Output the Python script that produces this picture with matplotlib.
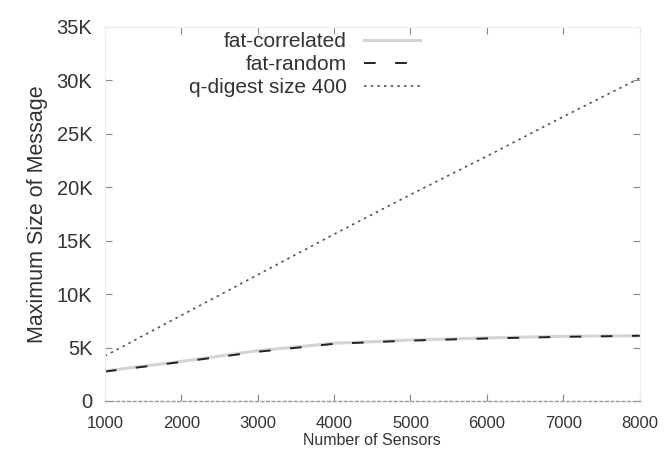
import matplotlib
matplotlib.use("Agg")
import matplotlib.pyplot as plt
from matplotlib.ticker import FuncFormatter

plt.rcParams['font.family'] = ['Liberation Sans', 'DejaVu Sans']

sensors = [1000, 2000, 3000, 4000, 5000, 6000, 7000, 8000]
fat_correlated = [2800, 3700, 4700, 5400, 5700, 5900, 6050, 6100]
fat_random = [2750, 3650, 4600, 5350, 5650, 5850, 6000, 6100]
qdigest_400 = [4200, 8000, 11800, 15600, 19300, 22900, 26600, 30200]

xticks = [1000, 2000, 3000, 4000, 5000, 6000, 7000, 8000]
yticks = [0, 5000, 10000, 15000, 20000, 25000, 30000, 35000]

fig = plt.figure(figsize=(6.72, 4.63), dpi=100)
ax = fig.add_axes([0.156, 0.134, 0.796, 0.808])

ax.plot(sensors, fat_correlated, color='#d4d4d4', lw=2.2, label='fat-correlated')
ax.plot(sensors, fat_random, color='#222222', lw=1.4, ls=(0, (6, 10)), label='fat-random')
ax.plot(sensors, qdigest_400, color='#555555', lw=1.2, ls=(0, (1.5, 2.5)), label='q-digest size 400')

ax.set_xlim(1000, 8000)
ax.set_ylim(0, 35000)
ax.set_xticks(xticks)
ax.set_yticks(yticks)
ax.yaxis.set_major_formatter(FuncFormatter(lambda v, p: '0' if v == 0 else f'{int(v/1000)}K'))

for s in ['top', 'right', 'left']:
    ax.spines[s].set_color('#eeeeee')
    ax.spines[s].set_linewidth(0.8)
ax.spines['bottom'].set_color('#999999')
ax.spines['bottom'].set_linestyle((0, (2, 2)))
ax.spines['bottom'].set_linewidth(1.0)

ax.tick_params(direction='in', top=True, right=True, length=5, color='#888888',
               labelcolor='#333333')
ax.tick_params(axis='x', labelsize=12, pad=11)
ax.tick_params(axis='y', labelsize=14.5, pad=9)

ax.set_xlabel('Number of Sensors', fontsize=11.5, color='#333333', labelpad=1)
ax.set_ylabel('Maximum Size of Message', fontsize=15.5, color='#333333', labelpad=6)

leg = ax.legend(loc='upper right', bbox_to_anchor=(420/672, 1-32/463), bbox_transform=fig.transFigure,
                frameon=False, markerfirst=False, borderpad=0, borderaxespad=0,
                fontsize=15, handlelength=2.7, labelspacing=0.2, handletextpad=0.8)
for t in leg.get_texts():
    t.set_color('#333333')
    t.set_ha('right')

fig.savefig('out.png', dpi=100)
